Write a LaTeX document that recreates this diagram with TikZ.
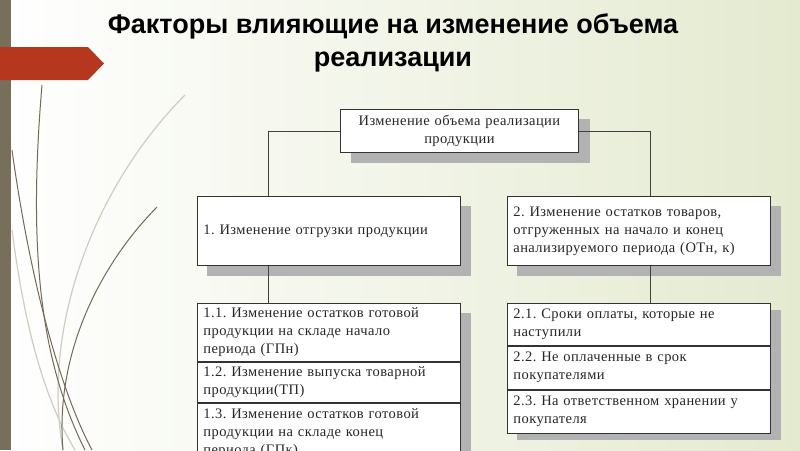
\documentclass[tikz,border=0pt]{standalone}
\usepackage{fontspec}
\setmainfont[LetterSpace=3]{Liberation Serif}
\newfontfamily\titlefont{Liberation Sans}
\usetikzlibrary{shapes,backgrounds,positioning}
\usepackage{xcolor}
\definecolor{barolive}{RGB}{118,112,90}
\definecolor{bannerred}{RGB}{180,55,30}
\definecolor{bgright}{RGB}{228,234,208}
\definecolor{curvedark}{RGB}{112,106,86}
\definecolor{curvelight}{RGB}{205,205,195}
\definecolor{shadowgray}{RGB}{178,178,178}
\pgfdeclarelayer{shadowlayer}
\pgfsetlayers{background,shadowlayer,main}
\frenchspacing

\begin{document}
\begin{tikzpicture}[x=1pt, y=-1pt,
        fbox/.style={draw=black!80, fill=white, line width=0.8pt, inner xsep=6pt,
            text width=251pt, align=left, text=black!85,
            font=\fontsize{14.5}{18}\selectfont},
        link/.style={draw=black!75, line width=0.8pt}]
            \useasboundingbox (0,0) rectangle (800,450);
            \begin{pgfonlayer}{background}
            \shade[left color=white, right color=bgright] (0,0) rectangle (800,450);
            \fill[barolive] (0,0) rectangle (11,450);

            \draw[curvelight, line width=1.2pt] (185,95) .. controls (100,180) and (40,320) .. (63,450);
            \draw[curvelight, line width=1.2pt] (12,230) .. controls (25,330) and (45,400) .. (75,450);
            \draw[curvedark, line width=1pt] (42,85) .. controls (28,250) and (40,360) .. (85,450);
            \draw[curvedark, line width=1pt] (12,150) .. controls (30,280) and (60,390) .. (92,450);
            \draw[curvedark, line width=1pt] (157,207) .. controls (95,270) and (55,360) .. (63,450);

            \fill[bannerred] (0,47) -- (88,47) -- (104,63.5) -- (88,80) -- (0,80) -- cycle;
            \end{pgfonlayer}

            \node[font=\titlefont\bfseries\fontsize{27}{33}\selectfont, align=center] (title) at (393,43)
                {Факторы влияющие на изменение объема\\реализации};

            \node[fbox, text width=226pt, align=center, minimum height=43pt, anchor=north west] (top) at (340,109)
                {Изменение объема реализации\\продукции};

            \node[fbox, minimum height=69pt, anchor=north west] (fac1) at (197,196)
                {1. Изменение отгрузки продукции};
            \node[fbox, minimum height=69pt, anchor=north west] (fac2) at (507,196)
                {2. Изменение остатков товаров,\\отгруженных на начало и конец\\анализируемого периода (ОТн, к)};

            \node[fbox, minimum height=58pt, anchor=north west] (f11) at (197,303)
                {1.1. Изменение остатков готовой\\продукции на складе начало\\периода (ГПн)};
            \node[fbox, minimum height=40pt, below=0pt of f11] (f12)
                {1.2. Изменение выпуска товарной\\продукции(ТП)};
            \node[fbox, minimum height=60pt, below=0pt of f12] (f13)
                {1.3. Изменение остатков готовой\\продукции на складе конец\\периода (ГПк)};

            \node[fbox, minimum height=42pt, anchor=north west] (f21) at (507,303)
                {2.1. Сроки оплаты, которые не\\наступили};
            \node[fbox, minimum height=43pt, below=0pt of f21] (f22)
                {2.2. Не оплаченные в срок\\покупателями};
            \node[fbox, minimum height=43pt, below=0pt of f22] (f23)
                {2.3. На ответственном хранении у\\покупателя};

            \begin{pgfonlayer}{shadowlayer}
            \fill[shadowgray] ([shift={(11,10)}]top.north west) rectangle ([shift={(11,10)}]top.south east);
            \fill[shadowgray] ([shift={(10,10)}]fac1.north west) rectangle ([shift={(10,10)}]fac1.south east);
            \fill[shadowgray] ([shift={(10,10)}]fac2.north west) rectangle ([shift={(10,10)}]fac2.south east);
            \fill[shadowgray] ([shift={(10,10)}]f11.north west) rectangle ([shift={(10,10)}]f13.south east);
            \fill[shadowgray] ([shift={(10,7)}]f21.north west) rectangle ([shift={(10,7)}]f23.south east);
            \end{pgfonlayer}

            \draw[link] (top.west) -| ([xshift=-60.5pt]fac1.north);
            \draw[link] (top.east) -| ([xshift=11.5pt]fac2.north);
            \draw[link] ([xshift=-60.5pt]fac1.south) -- ([xshift=-60.5pt]f11.north);
            \draw[link] ([xshift=11.5pt]fac2.south) -- ([xshift=11.5pt]f21.north);
        \end{tikzpicture}
\end{document}
